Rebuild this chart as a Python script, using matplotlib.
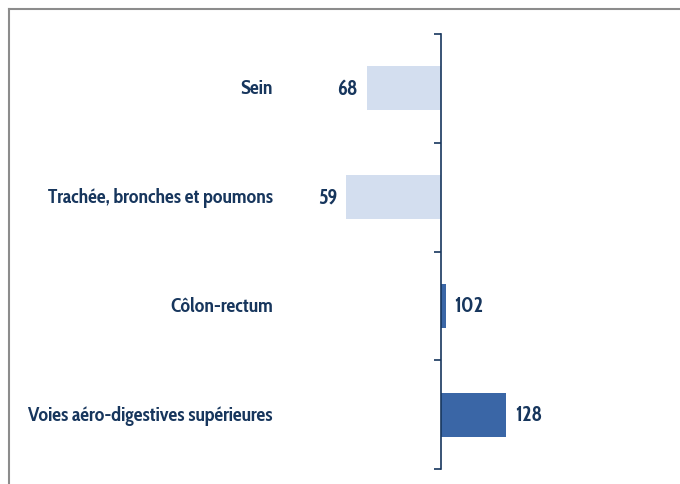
import matplotlib.pyplot as plt
import matplotlib.transforms as mtransforms
from matplotlib.lines import Line2D

# Data: index (base 100) per localisation
categories = ['Sein', 'Trachée, bronches et poumons', 'Côlon-rectum',
              'Voies aéro-digestives supérieures']
values = [68, 59, 102, 128]
base = 100

light = '#D3DEEF'
dark = '#3A66A6'
navy = '#17365D'

plt.rcParams['font.family'] = ['Cabin Condensed', 'DejaVu Sans']

fig = plt.figure(figsize=(6.8, 4.85), dpi=100)
ax = fig.add_axes([0, 15 / 485, 1, 435 / 485])

ypos = list(range(len(categories)))
widths = [v - base for v in values]
colors = [dark if v > base else light for v in values]
ax.barh(ypos, widths, left=base, height=0.405, color=colors)

ax.set_xlim(100 - 441 / 2.31, 100 + 239 / 2.31)
ax.set_ylim(3.5, -0.5)

# category axis drawn at 100
for s in ['top', 'right', 'bottom']:
    ax.spines[s].set_visible(False)
ax.spines['left'].set_position(('data', base))
ax.spines['left'].set_color(navy)
ax.spines['left'].set_linewidth(1.2)
ax.set_yticks([-0.5, 0.5, 1.5, 2.5, 3.5])
ax.set_yticklabels([])
ax.tick_params(axis='y', direction='out', length=5, color=navy, width=1.2)
ax.set_xticks([])

# value labels
for y, v in zip(ypos, values):
    if v < base:
        ax.annotate(str(v), (v, y), xytext=(-6.5, 0), textcoords='offset points',
                    ha='right', va='center', fontsize=15, fontweight='bold', color=navy)
    else:
        ax.annotate(str(v), (v, y), xytext=(6.5, 0), textcoords='offset points',
                    ha='left', va='center', fontsize=15, fontweight='bold', color=navy)

# category labels
trans = mtransforms.blended_transform_factory(fig.transFigure, ax.transData)
for y, c in zip(ypos, categories):
    ax.text(273 / 680, y, c, transform=trans, ha='right', va='center',
            fontsize=14.2, fontweight='bold', color=navy)

# outer frame (top and left)
fig.add_artist(Line2D([9 / 680, 1], [1 - 10 / 485, 1 - 10 / 485],
                      transform=fig.transFigure, color='#8C8C8C', lw=1.5))
fig.add_artist(Line2D([9 / 680, 9 / 680], [0, 1 - 10 / 485],
                      transform=fig.transFigure, color='#8C8C8C', lw=1.5))

plt.savefig('out.png', dpi=100)
